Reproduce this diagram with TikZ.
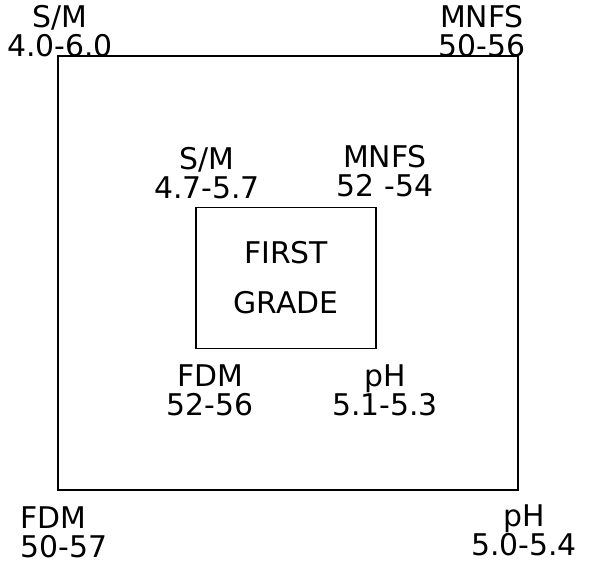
\documentclass[tikz,border=0pt]{standalone}
\usepackage{fontspec}
\setmainfont{DejaVu Sans}
\usetikzlibrary{positioning}

\begin{document}
\begin{tikzpicture}[
          x=0.02cm, y=-0.02cm,
          font=\fontsize{17}{16.4}\selectfont,
          frame/.style={draw=black, line width=1.1pt, inner sep=0pt},
          lbl/.style={align=center, inner sep=0pt}
        ]
        \useasboundingbox (0,0) rectangle (600,562);

        % the two squares
        \node[frame, minimum width=9.2cm, minimum height=8.68cm] (outer) at (288,273) {};
        \node[frame, minimum width=3.6cm, minimum height=2.82cm, align=center] (inner) at (286,278)
          {FIRST \\[12pt] GRADE};

        % outer limits
        \node[lbl] (osm) at (60,31) {S/M \\ 4.0-6.0};
        \node[lbl] (omnfs) at (482,31) {MNFS \\ 50-56};
        \node[lbl, align=left, anchor=west] (ofdm) at (20,532) {FDM \\ 50-57};
        \node[lbl] (oph) at (524,530) {pH \\ 5.0-5.4};

        % first grade limits
        \node[lbl] (ism) at (207,173) {S/M \\ 4.7-5.7};
        \node[lbl] (imnfs) at (385,171) {MNFS \\ 52 -54};
        \node[lbl] (ifdm) at (210,390) {FDM \\ 52-56};
        \node[lbl] (iph) at (385,390) {pH \\ 5.1-5.3};
      \end{tikzpicture}
\end{document}
